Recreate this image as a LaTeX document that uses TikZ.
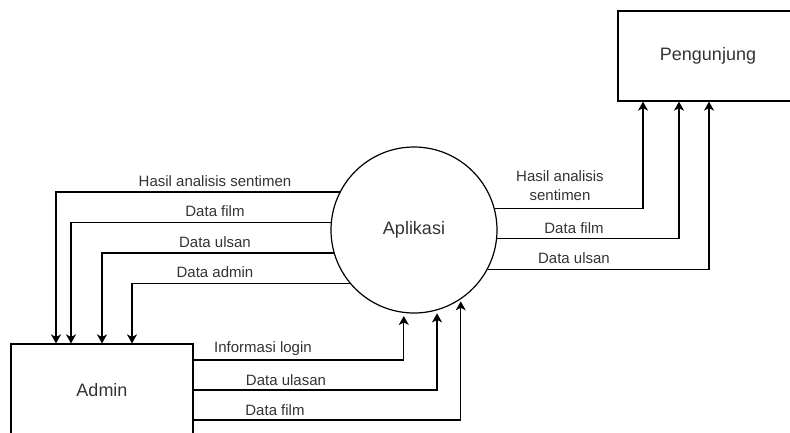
\documentclass[tikz,border=0pt]{standalone}
\usepackage{fontspec}
\setmainfont{Liberation Sans}
\usetikzlibrary{arrows.meta}

\tikzset{
  entity/.style={draw, line width=1.2pt, text=black!80, font=\fontsize{18}{22}\selectfont},
  process/.style={draw, circle, line width=1.2pt, minimum size=166pt, inner sep=0pt, text=black!80, font=\fontsize{18}{22}\selectfont},
  flow/.style={-{Stealth[length=9pt,width=10pt,inset=2.5pt]}, line width=1.3pt},
  lbl/.style={inner sep=0pt, anchor=base, text=black!80, font=\fontsize{15}{18.3}\selectfont}
}

\begin{document}
\begin{tikzpicture}[x=1pt,y=-1pt]
        \useasboundingbox (0,0) rectangle (790,432);
        % proses dan entitas luar
        \node[process] (app) at (414,230) {Aplikasi};
        \node[entity, minimum width=182pt, minimum height=92pt] (admin) at (102,390) {Admin};
        \node[entity, minimum width=180pt, minimum height=90pt] (peng) at (708,56) {Pengunjung};
        % aplikasi ke admin
        \draw[flow] (app.153.5) -| ([xshift=-46pt]admin.north);
        \draw[flow] (app.175.2) -| ([xshift=-31pt]admin.north);
        \draw[flow] (app.196.8) -| (admin.north);
        \draw[flow] (app.220.6) -| ([xshift=30pt]admin.north);
        \node[lbl] (l1) at (215,186) {Hasil analisis sentimen};
        \node[lbl] (l2) at (215,216) {Data film};
        \node[lbl] (l3) at (215,247) {Data ulsan};
        \node[lbl] (l4) at (215,277) {Data admin};
        % aplikasi ke pengunjung
        \draw[flow] (app.15.4) -| ([xshift=-65pt]peng.south);
        \draw[flow] (app.354.5) -| ([xshift=-29pt]peng.south);
        \draw[flow] (app.332.8) -| ([xshift=1pt]peng.south);
        \node[lbl, anchor=center, align=center] (r1) at (560,185.5) {Hasil analisis\\sentimen};
        \node[lbl] (r2) at (574,233) {Data film};
        \node[lbl] (r3) at (574,263) {Data ulsan};
        % admin ke aplikasi
        \draw[flow, shorten >=3pt] ([yshift=30pt]admin.east) -| (app.263.1);
        \draw[flow, shorten >=3pt] (admin.east) -| (app.286.8);
        \draw[flow, shorten >=2pt] ([yshift=-30pt]admin.east) -| (app.304.5);
        \node[lbl] (b1) at (263,352) {Informasi login};
        \node[lbl] (b2) at (286,385) {Data ulasan};
        \node[lbl] (b3) at (275,415) {Data film};
\end{tikzpicture}
\end{document}
